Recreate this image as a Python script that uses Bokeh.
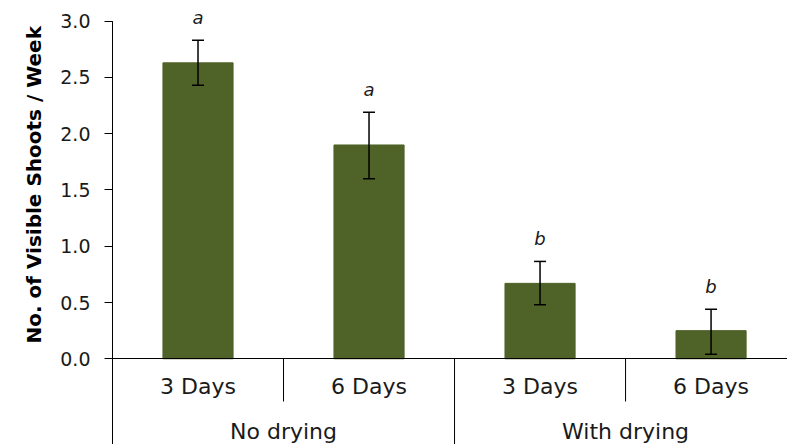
from bokeh.plotting import figure
from bokeh.models import (ColumnDataSource, Range1d, LinearAxis, FixedTicker, Whisker,
                          TeeHead, LabelSet, PrintfTickFormatter, Title)
from bokeh.core.properties import value
from bokeh.embed import file_html
from bokeh.resources import INLINE

# ---- data ----
groups = ["No drying", "With drying"]
periods = ["3 Days", "6 Days"]
means = [2.63, 1.90, 0.67, 0.25]
err_low = [2.43, 1.60, 0.48, 0.04]
err_high = [2.83, 2.19, 0.865, 0.44]
letters = ["a", "a", "b", "b"]
y_ticks = [0.0, 0.5, 1.0, 1.5, 2.0, 2.5, 3.0]
y_title = "No. of Visible Shoots / Week"

n_sub = len(periods)
n_bars = len(groups) * n_sub
xs = [i + 0.5 for i in range(n_bars)]
group_centers = [g * n_sub + n_sub / 2 for g in range(len(groups))]

src = ColumnDataSource(dict(x=xs, top=means, lower=err_low, upper=err_high, letter=letters))

FONT = "DejaVu Sans"
BAR = "#4F6228"
Y_MIN, Y_MAX = -0.762, 3.184
X_MIN, X_MAX = -0.00585, 3.947

p = figure(width=787, height=444, output_backend="svg", toolbar_location=None,
           x_range=Range1d(X_MIN, X_MAX), y_range=Range1d(Y_MIN, Y_MAX),
           x_axis_location=None,
           min_border_left=111, min_border_right=0, min_border_top=0, min_border_bottom=0)
p.outline_line_color = None
p.xgrid.visible = False
p.ygrid.visible = False
p.background_fill_color = "white"
p.border_fill_color = "white"

# bars
p.vbar(x="x", top="top", width=0.41, source=src, fill_color=BAR, line_color=BAR)

# error bars
p.add_layout(Whisker(source=src, base="x", upper="upper", lower="lower", level="overlay",
                     line_color="black", line_width=1.5,
                     upper_head=TeeHead(size=12, line_color="black", line_width=1.5),
                     lower_head=TeeHead(size=12, line_color="black", line_width=1.5)))

# significance letters
p.add_layout(LabelSet(source=src, x="x", y="upper", text="letter", y_offset=16,
                      text_align="center", text_baseline="alphabetic",
                      text_font=value(FONT), text_font_style="italic", text_font_size="18px",
                      text_color="#1a1a1a"))

# vertical value-axis line, continuing down through the category area
p.segment(x0=[0.0], y0=[y_ticks[-1]], x1=[0.0], y1=[Y_MIN], line_color="black", line_width=1)

# category separators below the baseline
sep_x = [float(k) for k in range(1, n_bars)]
sep_bottom = [Y_MIN if k % n_sub == 0 else -0.38 for k in range(1, n_bars)]
p.segment(x0=sep_x, y0=[0.0] * len(sep_x), x1=sep_x, y1=sep_bottom,
          line_color="black", line_width=1)

# y axis
ya = p.yaxis[0]
ya.ticker = FixedTicker(ticks=y_ticks)
ya.formatter = PrintfTickFormatter(format="%.1f")
ya.minor_tick_line_color = None
ya.major_tick_in = 1
ya.major_tick_out = 7
ya.major_label_standoff = 14
ya.axis_line_color = None
ya.major_tick_line_color = "black"
ya.major_label_text_font = FONT
ya.major_label_text_font_size = "19px"
ya.major_label_text_color = "#1a1a1a"

# y axis title (placed over the 0-3 value span)
p.add_layout(Title(text=y_title, align="left", offset=101, vertical_align="bottom",
                   standoff=24, text_font=FONT, text_font_style="bold",
                   text_font_size="20px", text_color="black"), "left")

# x axis: sub-categories
xa = LinearAxis(fixed_location=0, ticker=FixedTicker(ticks=xs),
                major_label_overrides={x: periods[i % n_sub] for i, x in enumerate(xs)})
xa.axis_line_color = "black"
xa.major_tick_line_color = None
xa.minor_tick_line_color = None
xa.major_tick_out = 0
xa.major_tick_in = 0
xa.major_label_standoff = 15
xa.major_label_text_font = FONT
xa.major_label_text_font_size = "22px"
xa.major_label_text_color = "#1a1a1a"
p.add_layout(xa, "below")

# x axis: groups
ga = LinearAxis(fixed_location=0, ticker=FixedTicker(ticks=group_centers),
                major_label_overrides={x: groups[i] for i, x in enumerate(group_centers)})
ga.axis_line_color = None
ga.major_tick_line_color = None
ga.minor_tick_line_color = None
ga.major_tick_out = 0
ga.major_tick_in = 0
ga.major_label_standoff = 60
ga.major_label_text_font = FONT
ga.major_label_text_font_size = "22px"
ga.major_label_text_color = "#1a1a1a"
p.add_layout(ga, "below")

open("out.html", "w").write(file_html(p, INLINE))
